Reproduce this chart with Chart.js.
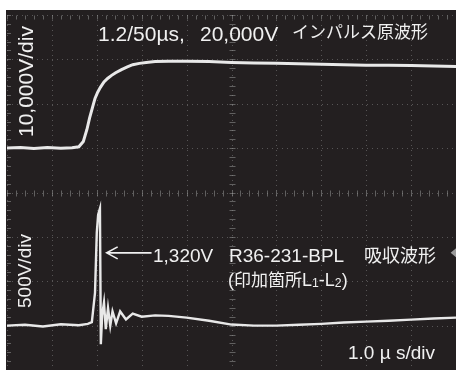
<!DOCTYPE html>
<html>
<head>
<meta charset="utf-8">
<script src="https://cdn.jsdelivr.net/npm/chart.js@4.4.1/dist/chart.umd.min.js"></script>
<style>
  body { margin: 0; width: 456px; height: 370px; overflow: hidden; position: relative; background: #fff;
         font-family: "Liberation Sans", Arial, "Noto Sans CJK JP", sans-serif; }
  #scope { position: absolute; left: 6px; top: 10px; width: 450px; height: 360px; background: #231f20; }
  #scope canvas { position: absolute; left: 0; top: 0; }
  .lbl { position: absolute; color: #f0f0f0; white-space: nowrap; line-height: 1; }
  .jp { font-family: "Noto Sans CJK JP", sans-serif; }
  .rot { transform-origin: 0 0; transform: rotate(-90deg); }
  sub { font-size: 68%; vertical-align: -1px; }
</style>
</head>
<body>
<div id="scope"><canvas id="c" width="450" height="360"></canvas></div>

<div class="lbl" style="left:98px;top:23px;font-size:21px">1.2/50µs,</div>
<div class="lbl" style="left:200px;top:23px;font-size:21px">20,000V</div>
<div class="lbl jp" style="left:292px;top:22px;font-size:17px">インパルス原波形</div>
<div class="lbl rot" style="left:15px;top:137px;font-size:21px">10,000V/div</div>
<div class="lbl rot" style="left:15px;top:308px;font-size:19px">500V/div</div>
<div class="lbl" style="left:153px;top:246px;font-size:19px">1,320V</div>
<div class="lbl" style="left:229px;top:246px;font-size:19px">R36-231-BPL</div>
<div class="lbl jp" style="left:364px;top:245px;font-size:18px">吸収波形</div>
<div class="lbl" style="left:228px;top:270px;font-size:18px">(<span class="jp" style="font-size:17px">印加箇所</span>L<sub>1</sub>-L<sub>2</sub>)</div>
<div class="lbl" style="left:348px;top:343px;font-size:19px">1.0 <span>µ</span> s/div</div>

<script>
// time axis: 1.0 us/div, 10 div
const xTicks = [0, 1, 2, 3, 4, 5, 6, 7, 8, 9, 10];

// top trace: 10,000 V/div (impulse 1.2/50us)
const timeTop = [0, 0.3, 0.6, 0.9, 1.2, 1.45, 1.6, 1.7, 1.78, 1.84, 1.9, 1.96, 2.02, 2.08, 2.16, 2.24, 2.33, 2.42, 2.55, 2.68, 2.8, 2.95, 3.1, 3.3, 3.6, 4.0, 4.5, 5.0, 5.5, 6.0, 6.5, 7.0, 7.5, 8.0, 8.5, 9.0, 9.5, 10.0];
const voltTop = [0, 150, -100, 120, -50, 100, 300, 1500, 4200, 6800, 9000, 11200, 12600, 13700, 14900, 15700, 16400, 17000, 17700, 18300, 18800, 19100, 19300, 19500, 19600, 19600, 19500, 19300, 19200, 19100, 19000, 18900, 18800, 18700, 18700, 18600, 18500, 18400];

// bottom trace: 500 V/div (absorbed waveform)
const timeBot = [0, 0.4, 0.8, 1.2, 1.6, 1.8, 1.89, 1.96, 2.0, 2.03, 2.07, 2.09, 2.12, 2.16, 2.2, 2.25, 2.3, 2.35, 2.43, 2.52, 2.65, 2.8, 3.0, 3.3, 3.6, 4.0, 4.5, 5.0, 5.5, 6.0, 6.5, 7.0, 7.5, 8.0, 8.5, 9.0, 9.5, 10.0];
const voltBot = [0, 10, -10, 15, 5, 20, 40, 370, 1050, 1250, 1320, -210, 120, 260, -40, 200, 0, 160, 25, 160, 70, 135, 100, 115, 110, 90, 55, 12, 0, 0, 10, 20, 35, 45, 55, 68, 80, 90];

const peakLabelV = 820; // arrow height for the 1,320V note

const gridPlugin = {
  id: 'scopeGrid',
  beforeDatasetsDraw(chart) {
    const { ctx, chartArea: a, scales: { x, yTop } } = chart;
    ctx.save();
    ctx.strokeStyle = 'rgba(140,140,140,0.5)';
    ctx.lineWidth = 1;
    ctx.setLineDash([1, 4]);
    xTicks.forEach(t => {
      const px = Math.round(x.getPixelForValue(t)) + 0.5;
      ctx.beginPath(); ctx.moveTo(px, a.top); ctx.lineTo(px, a.bottom); ctx.stroke();
    });
    for (let v = yTop.min; v <= yTop.max; v += 10000) {
      const py = Math.round(yTop.getPixelForValue(v)) + 0.5;
      ctx.beginPath(); ctx.moveTo(a.left, py); ctx.lineTo(a.right, py); ctx.stroke();
    }
    // minor ticks on centre cross and top edge
    ctx.setLineDash([]);
    ctx.strokeStyle = 'rgba(150,150,150,0.55)';
    const cx = Math.round(x.getPixelForValue(5)) + 0.5;
    const cy = Math.round(yTop.getPixelForValue(-10000)) + 0.5;
    const topY = Math.round(yTop.getPixelForValue(yTop.max)) + 0.5;
    for (let t = 0; t <= 10; t += 0.2) {
      const px = Math.round(x.getPixelForValue(t)) + 0.5;
      ctx.beginPath(); ctx.moveTo(px, cy - 3); ctx.lineTo(px, cy + 3); ctx.stroke();
      ctx.beginPath(); ctx.moveTo(px, topY); ctx.lineTo(px, topY + 4); ctx.stroke();
    }
    for (let v = yTop.min; v <= yTop.max; v += 2000) {
      const py = Math.round(yTop.getPixelForValue(v)) + 0.5;
      ctx.beginPath(); ctx.moveTo(cx - 3, py); ctx.lineTo(cx + 3, py); ctx.stroke();
      ctx.beginPath(); ctx.moveTo(a.left, py); ctx.lineTo(a.left + 4, py); ctx.stroke();
    }
    ctx.restore();
  },
  afterDatasetsDraw(chart) {
    const { ctx, scales: { x, yBot } } = chart;
    const py = yBot.getPixelForValue(peakLabelV);
    const x0 = x.getPixelForValue(3.22), x1 = x.getPixelForValue(2.22);
    ctx.save();
    ctx.strokeStyle = '#f0f0f0';
    ctx.lineWidth = 1.6;
    ctx.beginPath();
    ctx.moveTo(x0, py); ctx.lineTo(x1, py);
    ctx.moveTo(x1 + 11, py - 6); ctx.lineTo(x1, py); ctx.lineTo(x1 + 11, py + 6);
    ctx.stroke();
    // channel marker on right edge
    const mx = x.getPixelForValue(9.88);
    ctx.fillStyle = '#9a9a9a';
    ctx.beginPath();
    ctx.moveTo(mx, py); ctx.lineTo(mx + 6, py - 5); ctx.lineTo(mx + 6, py + 5); ctx.closePath();
    ctx.fill();
    ctx.restore();
  }
};

const traceStyle = { borderColor: '#e8e8e8', borderWidth: 3, pointRadius: 0, tension: 0, fill: false };

new Chart(document.getElementById('c'), {
  type: 'line',
  data: {
    datasets: [
      { label: '原波形', data: timeTop.map((t, i) => ({ x: t, y: voltTop[i] })), yAxisID: 'yTop', ...traceStyle },
      { label: '吸収波形', data: timeBot.map((t, i) => ({ x: t, y: voltBot[i] })), yAxisID: 'yBot', ...traceStyle, borderWidth: 2.4 }
    ]
  },
  options: {
    responsive: false,
    animation: false,
    layout: { padding: { left: 1, top: 5, right: 0, bottom: 0 } },
    plugins: { legend: { display: false }, tooltip: { enabled: false } },
    scales: {
      x: { type: 'linear', min: 0, max: 10, display: false },
      yTop: { type: 'linear', min: -50000, max: 30000, display: false },
      yBot: { type: 'linear', min: -500, max: 3500, display: false }
    }
  },
  plugins: [gridPlugin]
});
</script>
</body>
</html>
